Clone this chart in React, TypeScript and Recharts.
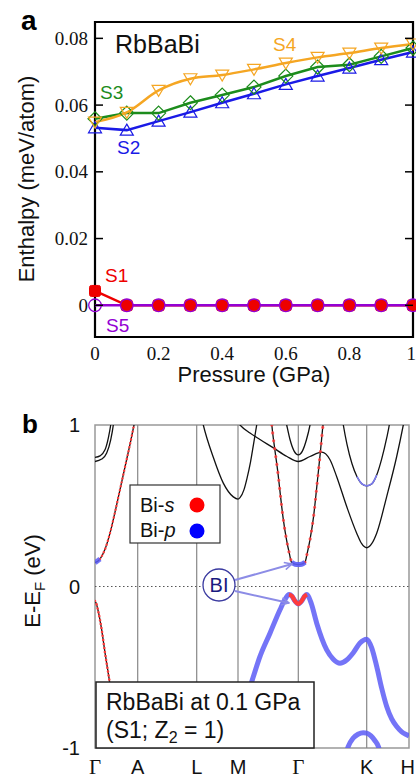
import React from 'react';
import { LineChart, ComposedChart, Line, XAxis, YAxis, ReferenceArea, ReferenceLine } from 'recharts';

// ---------- Panel a data ----------
const pressure = [0, 0.1, 0.2, 0.3, 0.4, 0.5, 0.6, 0.7, 0.8, 0.9, 1.0];
const s1 = [0.0043, 0, 0, 0, 0, 0, 0, 0, 0, 0, 0];
const s2 = [0.0532, 0.0525, 0.0552, 0.0579, 0.0607, 0.0634, 0.0662, 0.0687, 0.0711, 0.0736, 0.0759];
const s3 = [0.0559, 0.0576, 0.0576, 0.0607, 0.063, 0.0654, 0.0687, 0.0714, 0.0721, 0.0746, 0.0771];
const s4 = [0.0549, 0.0578, 0.0644, 0.0679, 0.069, 0.0707, 0.0726, 0.0743, 0.0756, 0.0771, 0.0783];
const s5 = [0, 0, 0, 0, 0, 0, 0, 0, 0, 0, 0];
const pressureTicks = [0, 0.2, 0.4, 0.6, 0.8, 1];
const enthalpyTicks = [0, 0.02, 0.04, 0.06, 0.08];
const enthalpyDomain: [number, number] = [-0.0095, 0.0849];

// ---------- Panel b data ----------
const kTicks = [0, 0.427, 1.017, 1.43, 2.033, 2.717, 3.14];
const kLabels = ['Γ', 'A', 'L', 'M', 'Γ', 'K', 'H'];
const energyTicks = [-1, 0, 1];

const bandG1: [number, number][] = [[0, 0.799], [0.05, 0.809], [0.1, 0.846], [0.133, 0.919], [0.157, 1.0], [0.18, 1.12]];
const bandG2: [number, number][] = [[0, 0.774], [0.067, 0.789], [0.117, 0.826], [0.157, 0.908], [0.183, 1.0], [0.2, 1.1]];
const bandS1: [number, number][] = [[0, 0.147], [0.05, 0.17], [0.1, 0.23], [0.15, 0.33], [0.2, 0.46], [0.25, 0.6], [0.3, 0.74], [0.35, 0.88], [0.39, 1.0], [0.42, 1.09]];
const bandM: [number, number][] = [[1.05, 1.09], [1.083, 1.0], [1.183, 0.8], [1.283, 0.64], [1.383, 0.555], [1.43, 0.541], [1.45, 0.55], [1.49, 0.6], [1.52, 0.67], [1.555, 0.77], [1.585, 0.88], [1.617, 1.0], [1.64, 1.08]];
const bandB4: [number, number][] = [[1.4, 1.04], [1.45, 1.0], [1.55, 0.95], [1.65, 0.91], [1.78, 0.86], [1.92, 0.805], [2.033, 0.774], [2.15, 0.805], [2.267, 0.832], [2.35, 0.785], [2.417, 0.68], [2.517, 0.495], [2.617, 0.33], [2.667, 0.265], [2.717, 0.24], [2.767, 0.265], [2.817, 0.33], [2.917, 0.557], [3.017, 0.805], [3.083, 1.0], [3.12, 1.12]];
const bandB5: [number, number][] = [[1.9, 1.05], [1.917, 1.0], [1.95, 0.91], [1.99, 0.84], [2.033, 0.815], [2.075, 0.84], [2.115, 0.91], [2.15, 1.0], [2.165, 1.05]];
const bandV: [number, number][] = [[1.76, 1.05], [1.775, 0.96], [1.8, 0.84], [1.83, 0.7], [1.855, 0.56], [1.88, 0.43], [1.915, 0.29], [1.945, 0.2], [1.965, 0.15], [2.0, 0.138], [2.033, 0.136], [2.066, 0.138], [2.1, 0.15], [2.12, 0.2], [2.15, 0.29], [2.185, 0.43], [2.22, 0.63], [2.255, 0.84], [2.28, 1.0], [2.3, 1.1]];
const bandK1: [number, number][] = [[2.47, 1.05], [2.483, 1.0], [2.52, 0.88], [2.57, 0.76], [2.62, 0.68], [2.67, 0.635], [2.717, 0.623], [2.767, 0.635], [2.817, 0.69], [2.867, 0.79], [2.917, 0.92], [2.943, 1.0], [2.955, 1.05]];
const bandV1: [number, number][] = [[0, -0.09], [0.01, -0.1], [0.033, -0.155], [0.067, -0.268], [0.1, -0.41], [0.143, -0.578], [0.19, -0.77], [0.24, -0.97], [0.26, -1.05]];
const bandVB: [number, number][] = [[1.25, -1.08], [1.3, -1.0], [1.4, -0.86], [1.5, -0.71], [1.567, -0.59], [1.65, -0.433], [1.75, -0.289], [1.85, -0.144], [1.9, -0.08], [1.94, -0.05], [1.97, -0.06], [2.0, -0.09], [2.033, -0.107], [2.066, -0.09], [2.096, -0.06], [2.12, -0.05], [2.16, -0.1], [2.217, -0.227], [2.317, -0.392], [2.383, -0.45], [2.45, -0.475], [2.517, -0.455], [2.583, -0.41], [2.65, -0.35], [2.717, -0.326], [2.767, -0.38], [2.817, -0.495], [2.867, -0.63], [2.917, -0.743], [2.967, -0.82], [3.017, -0.867], [3.067, -0.9], [3.117, -0.918], [3.14, -0.925]];
const bandK2: [number, number][] = [[2.5, -1.06], [2.533, -0.99], [2.58, -0.94], [2.63, -0.915], [2.683, -0.905], [2.717, -0.908], [2.76, -0.925], [2.8, -0.955], [2.833, -0.99], [2.86, -1.05]];

// ---------- helpers ----------
const toPts = (b: [number, number][]) => b.map(([k, e]) => ({ k, e }));
const part = (b: [number, number][], a: number, z: number) => toPts(b.filter(([k]) => k >= a - 1e-9 && k <= z + 1e-9));

const rowsA = pressure.map((p, i) => ({ p, s1: s1[i], s2: s2[i], s3: s3[i], s4: s4[i], s5: s5[i] }));

const SANS = 'Liberation Sans, Arial, sans-serif';
const SERIF = 'Liberation Serif, Times New Roman, serif';

const C_S1 = '#ee0000';
const C_S2 = '#1a1ae6';
const C_S3 = '#1c8c1c';
const C_S4 = '#f5a623';
const C_S5 = '#9400d3';
const C_P = '#5c5cf6';
const C_S = '#ff3b3b';

const fmtE = (v: number) => (v === 0 ? '0' : v.toFixed(2));

const YTickA = (props: any) => {
  const { x, y, payload } = props;
  return (
    <g>
      <text x={x} y={y} dy={6.5} textAnchor="end" fontFamily={SERIF} fontSize={19} fill="#111">{fmtE(payload.value)}</text>
      <line x1={x + 7} x2={x + 15} y1={y} y2={y} stroke="#000" strokeWidth={1.5} />
    </g>
  );
};
const YTickRightA = (props: any) => {
  const { x, y } = props;
  return <line x1={x - 8} x2={x} y1={y} y2={y} stroke="#000" strokeWidth={1.5} />;
};
const XTickA = (props: any) => {
  const { x, y, payload, index } = props;
  const last = index === pressureTicks.length - 1;
  return (
    <text x={last ? x + 3 : x} y={y} dy={23} textAnchor={last ? 'end' : 'middle'} fontFamily={SERIF} fontSize={19} fill="#111">{String(payload.value)}</text>
  );
};

const YTickB = (props: any) => {
  const { x, y, payload } = props;
  return (
    <text x={x} y={y} dy={7} textAnchor="end" fontFamily={SANS} fontSize={20} fill="#111">{String(payload.value)}</text>
  );
};
const XTickB = (props: any) => {
  const { x, y, index } = props;
  const lab = kLabels[index];
  const isG = lab === 'Γ';
  const last = index === kLabels.length - 1;
  return (
    <text x={last ? x + 6 : x} y={y} dy={26} textAnchor={last ? 'end' : 'middle'} fontFamily={isG ? SERIF : SANS} fontSize={isG ? 21 : 20} fill="#111">{lab}</text>
  );
};

const TriDown = (p: any) => (
  <polygon key={p.index} points={`${p.cx - 6.5},${p.cy - 5} ${p.cx + 6.5},${p.cy - 5} ${p.cx},${p.cy + 6}`} fill="none" stroke={C_S4} strokeWidth={1.2} />
);
const Diamond = (p: any) => (
  <polygon key={p.index} points={`${p.cx},${p.cy - 7} ${p.cx + 7},${p.cy} ${p.cx},${p.cy + 7} ${p.cx - 7},${p.cy}`} fill="none" stroke={C_S3} strokeWidth={1.2} />
);
const TriUp = (p: any) => (
  <polygon key={p.index} points={`${p.cx},${p.cy - 6} ${p.cx + 6.5},${p.cy + 5} ${p.cx - 6.5},${p.cy + 5}`} fill="none" stroke={C_S2} strokeWidth={1.2} />
);
const Sq = (p: any) => (
  <rect key={p.index} x={p.cx - 5.5} y={p.cy - 5.5} width={11} height={11} rx={2} fill={C_S1} stroke={C_S1} />
);
const Circ = (p: any) => (
  <circle key={p.index} cx={p.cx} cy={p.cy} r={6.3} fill="none" stroke={C_S5} strokeWidth={1.3} />
);

const blackBands = [bandG1, bandG2, bandS1, bandM, bandB4, bandB5, bandV, bandK1, bandV1];

export default function App() {
  return (
    <div style={{ position: 'absolute', left: 0, top: 0, width: 416, height: 779, background: '#fff', overflow: 'hidden' }}>
      <div style={{ position: 'absolute', left: 0, top: 0 }}>
        <LineChart width={416} height={390} data={rowsA} margin={{ top: 22, right: 1, bottom: 0, left: 0 }}>
          <XAxis dataKey="p" type="number" domain={[0, 1]} ticks={pressureTicks} interval={0} height={53}
            tickLine={false} axisLine={false} tickSize={0} tickMargin={0} tick={(p: any) => <XTickA {...p} />} />
          <YAxis yAxisId="l" type="number" domain={enthalpyDomain} allowDataOverflow ticks={enthalpyTicks} interval={0} width={95}
            tickLine={false} axisLine={false} tickSize={0} tickMargin={7} tick={(p: any) => <YTickA {...p} />} />
          <YAxis yAxisId="r" orientation="right" type="number" domain={enthalpyDomain} allowDataOverflow ticks={enthalpyTicks} interval={0} width={2}
            tickLine={false} axisLine={false} tickSize={0} tickMargin={0} tick={(p: any) => <YTickRightA {...p} />} />
          <Line yAxisId="l" dataKey="s1" stroke={C_S1} strokeWidth={2.5} dot={Sq} activeDot={false} isAnimationActive={false} type="linear" />
          <Line yAxisId="l" dataKey="s5" stroke={C_S5} strokeWidth={2.5} dot={Circ} activeDot={false} isAnimationActive={false} type="linear" />
          <Line yAxisId="l" dataKey="s2" stroke={C_S2} strokeWidth={2.5} dot={TriUp} activeDot={false} isAnimationActive={false} type="linear" />
          <Line yAxisId="l" dataKey="s3" stroke={C_S3} strokeWidth={2.5} dot={Diamond} activeDot={false} isAnimationActive={false} type="linear" />
          <Line yAxisId="l" dataKey="s4" stroke={C_S4} strokeWidth={2.5} dot={TriDown} activeDot={false} isAnimationActive={false} type="monotone" />
          <ReferenceArea yAxisId="l" x1={0} x2={1} y1={enthalpyDomain[0]} y2={enthalpyDomain[1]} fill="none" fillOpacity={0} stroke="#000" strokeWidth={2.2} ifOverflow="visible" />
        </LineChart>
      </div>

      <div style={{ position: 'absolute', left: 0, top: 390 }}>
        <ComposedChart width={416} height={389} margin={{ top: 35, right: 7, bottom: 0, left: 0 }}>
          <XAxis dataKey="k" type="number" domain={[0, 3.14]} allowDataOverflow ticks={kTicks} interval={0} height={31}
            tickLine={false} axisLine={false} tickSize={0} tickMargin={0} tick={(p: any) => <XTickB {...p} />} />
          <YAxis type="number" domain={[-1, 1]} allowDataOverflow ticks={energyTicks} interval={0} width={95}
            tickLine={false} axisLine={false} tickSize={0} tickMargin={15} tick={(p: any) => <YTickB {...p} />} />
          {kTicks.slice(1, -1).map((k, i) => (
            <ReferenceLine key={'v' + i} x={k} stroke="#888" strokeWidth={1.2} />
          ))}
          <ReferenceLine y={0} stroke="#555" strokeWidth={1} strokeDasharray="1.5 2.5" />
          {blackBands.map((b, i) => (
            <Line key={'b' + i} data={toPts(b)} dataKey="e" stroke="#111" strokeWidth={1.3} dot={false} activeDot={false} isAnimationActive={false} type="monotone" />
          ))}
          {/* Bi-s (red dots) projections */}
          <Line data={part(bandS1, 0.03, 0.42)} dataKey="e" stroke={C_S} strokeWidth={2.4} strokeDasharray="0 4" strokeLinecap="round" dot={false} activeDot={false} isAnimationActive={false} type="monotone" />
          <Line data={part(bandV, 1.76, 1.965)} dataKey="e" stroke={C_S} strokeOpacity={0.85} strokeWidth={3.2} strokeDasharray="0 8" strokeLinecap="round" dot={false} activeDot={false} isAnimationActive={false} type="monotone" />
          <Line data={part(bandV, 2.1, 2.3)} dataKey="e" stroke={C_S} strokeOpacity={0.85} strokeWidth={3.2} strokeDasharray="0 8" strokeLinecap="round" dot={false} activeDot={false} isAnimationActive={false} type="monotone" />
          <Line data={part(bandV1, 0, 0.26)} dataKey="e" stroke={C_S} strokeWidth={2.6} strokeDasharray="0 4" strokeLinecap="round" dot={false} activeDot={false} isAnimationActive={false} type="monotone" />
          {/* Bi-p (blue dots) projections */}
          <Line data={part(bandS1, 0, 0.05)} dataKey="e" stroke={C_P} strokeOpacity={0.85} strokeWidth={5} dot={false} activeDot={false} isAnimationActive={false} type="monotone" />
          <Line data={part(bandV, 1.965, 2.1)} dataKey="e" stroke={C_P} strokeOpacity={0.9} strokeWidth={5} dot={false} activeDot={false} isAnimationActive={false} type="monotone" />
          <Line data={part(bandK1, 2.62, 2.817)} dataKey="e" stroke="#7a7af0" strokeWidth={1.6} dot={false} activeDot={false} isAnimationActive={false} type="monotone" />
          <Line data={toPts(bandVB)} dataKey="e" stroke={C_P} strokeOpacity={0.85} strokeWidth={5} dot={false} activeDot={false} isAnimationActive={false} type="monotone" />
          <Line data={part(bandVB, 1.94, 2.12)} dataKey="e" stroke={C_S} strokeWidth={4.2} dot={false} activeDot={false} isAnimationActive={false} type="monotone" />
          <Line data={toPts(bandK2)} dataKey="e" stroke={C_P} strokeOpacity={0.85} strokeWidth={5} dot={false} activeDot={false} isAnimationActive={false} type="monotone" />
          <ReferenceArea x1={0} x2={3.14} y1={-1} y2={1} fill="none" fillOpacity={0} stroke="#999" strokeWidth={1.5} ifOverflow="visible" />
        </ComposedChart>
      </div>

      <svg width={416} height={779} style={{ position: 'absolute', left: 0, top: 0, pointerEvents: 'none' }}>
        <defs>
          <marker id="arr" viewBox="0 0 12 12" refX="11" refY="6" markerWidth="9" markerHeight="9" orient="auto" markerUnits="userSpaceOnUse">
            <path d="M1,1 L11,6 L1,11" fill="none" stroke="#8c8ce6" strokeWidth={2} />
          </marker>
        </defs>
        {/* Panel a annotations */}
        <text x={21} y={30} fontFamily={SANS} fontWeight="bold" fontSize={28} fill="#000">a</text>
        <text x={115} y={53} fontFamily={SANS} fontSize={25} fill="#111">RbBaBi</text>
        <text x={273} y={51} fontFamily={SANS} fontSize={19} fill={C_S4}>S4</text>
        <text x={100} y={99} fontFamily={SANS} fontSize={19} fill={C_S3}>S3</text>
        <text x={117} y={154} fontFamily={SANS} fontSize={19} fill={C_S2}>S2</text>
        <text x={105} y={282} fontFamily={SANS} fontSize={19} fill={C_S1}>S1</text>
        <text x={106} y={332} fontFamily={SANS} fontSize={19} fill={C_S5}>S5</text>
        <text x={254} y={382} textAnchor="middle" fontFamily={SANS} fontSize={22} fill="#111">Pressure (GPa)</text>
        <text transform="translate(34,179) rotate(-90)" textAnchor="middle" fontFamily={SANS} fontSize={22} fill="#111">Enthalpy (meV/atom)</text>

        {/* Panel b annotations */}
        <text x={22} y={433} fontFamily={SANS} fontWeight="bold" fontSize={26} fill="#000">b</text>
        <text transform="translate(40,581) rotate(-90)" textAnchor="middle" fontFamily={SANS} fontSize={22} fill="#111">
          E-E<tspan fontSize={15} dy={5}>F</tspan><tspan dy={-5}> (eV)</tspan>
        </text>

        <rect x={130} y={485} width={90} height={58} fill="#fff" stroke="#333" strokeWidth={1.2} />
        <text x={140} y={512} fontFamily={SANS} fontSize={20} fill="#111">Bi-<tspan fontStyle="italic">s</tspan></text>
        <circle cx={197} cy={505} r={7.5} fill="#ff0000" />
        <text x={140} y={537} fontFamily={SANS} fontSize={20} fill="#111">Bi-<tspan fontStyle="italic">p</tspan></text>
        <circle cx={197} cy={531} r={7.5} fill="#0000ff" />

        <line x1={235} y1={580} x2={292} y2={564} stroke="#8c8ce6" strokeWidth={2} markerEnd="url(#arr)" />
        <line x1={235} y1={591} x2={289} y2={603} stroke="#8c8ce6" strokeWidth={2} markerEnd="url(#arr)" />
        <circle cx={219} cy={585} r={16} fill="#fff" stroke="#3a3aa0" strokeWidth={1.3} />
        <text x={219} y={592} textAnchor="middle" fontFamily={SANS} fontSize={20} fill="#1a1a80">BI</text>

        <rect x={96} y={682} width={218} height={66} fill="#fff" stroke="#222" strokeWidth={1.5} />
        <text x={106} y={710} fontFamily={SANS} fontSize={23} fill="#111">RbBaBi at 0.1 GPa</text>
        <text x={106} y={738} fontFamily={SANS} fontSize={23} fill="#111">(S1; Z<tspan fontSize={16} dy={5}>2</tspan><tspan dy={-5}> = 1)</tspan></text>
      </svg>
    </div>
  );
}
